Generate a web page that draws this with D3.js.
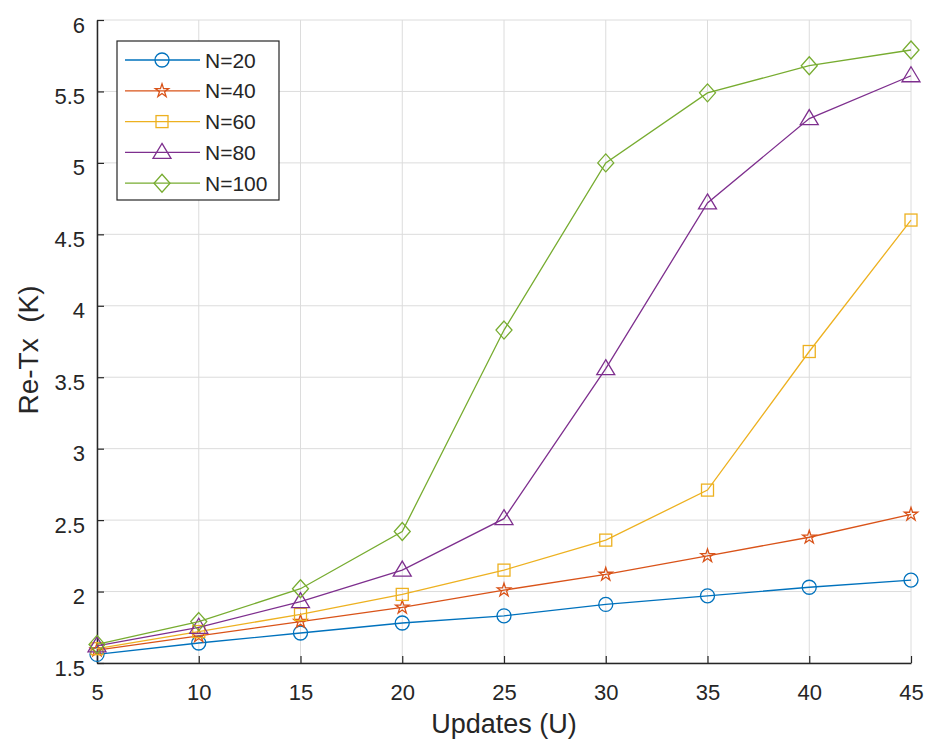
<!DOCTYPE html>
<html>
<head>
<meta charset="utf-8">
<script src="https://cdn.jsdelivr.net/npm/d3@7"></script>
<style>
  body { margin: 0; background: #fff; }
  svg text { font-family: "Liberation Sans", Arial, sans-serif; fill: #262626; }
</style>
</head>
<body>
<svg id="chart"></svg>
<script>
'use strict';
const UPDATES = [5, 10, 15, 20, 25, 30, 35, 40, 45];
const N20  = [1.56, 1.64, 1.71, 1.78, 1.83, 1.91, 1.97, 2.03, 2.08];
const N40  = [1.59, 1.69, 1.79, 1.89, 2.01, 2.12, 2.25, 2.38, 2.54];
const N60  = [1.60, 1.72, 1.84, 1.98, 2.15, 2.36, 2.71, 3.68, 4.60];
const N80  = [1.62, 1.75, 1.93, 2.15, 2.51, 3.56, 4.72, 5.31, 5.61];
const N100 = [1.63, 1.79, 2.02, 2.42, 3.83, 5.00, 5.49, 5.68, 5.79];
const SERIES_NAMES = ['N=20', 'N=40', 'N=60', 'N=80', 'N=100'];
const Y_TICKS = [1.5, 2, 2.5, 3, 3.5, 4, 4.5, 5, 5.5, 6];

const WIDTH = 931, HEIGHT = 745;
const LEFT = 97, RIGHT = 911, TOP = 20, BOTTOM = 663;

let series = [
  { name: SERIES_NAMES[0], values: N20,  color: '#0072BD', marker: 'circle' },
  { name: SERIES_NAMES[1], values: N40,  color: '#D95319', marker: 'star' },
  { name: SERIES_NAMES[2], values: N60,  color: '#EDB120', marker: 'square' },
  { name: SERIES_NAMES[3], values: N80,  color: '#7E2F8E', marker: 'triangle' },
  { name: SERIES_NAMES[4], values: N100, color: '#77AC30', marker: 'diamond' }
];

let svg = d3.select('#chart').attr('width', WIDTH).attr('height', HEIGHT);

let xScale = d3.scaleLinear().domain([5, 45]).range([LEFT, RIGHT]);
let yScale = d3.scaleLinear().domain([1.5, 6]).range([BOTTOM, TOP]);

// grid
svg.append('g').selectAll('line').data(UPDATES).enter().append('line')
  .attr('x1', d => xScale(d)).attr('x2', d => xScale(d))
  .attr('y1', TOP).attr('y2', BOTTOM)
  .attr('stroke', '#dcdcdc').attr('stroke-width', 1);
svg.append('g').selectAll('line').data(Y_TICKS).enter().append('line')
  .attr('x1', LEFT).attr('x2', RIGHT)
  .attr('y1', d => yScale(d)).attr('y2', d => yScale(d))
  .attr('stroke', '#dcdcdc').attr('stroke-width', 1);

// axes
let xAxis = d3.axisBottom(xScale).tickValues(UPDATES).tickSizeInner(-7).tickSizeOuter(0).tickPadding(21);
let yAxis = d3.axisLeft(yScale).tickValues(Y_TICKS).tickSizeInner(-7).tickSizeOuter(0).tickPadding(12)
  .tickFormat(d3.format('~g'));

let gx = svg.append('g').attr('transform', 'translate(0,' + BOTTOM + ')').call(xAxis);
let gy = svg.append('g').attr('transform', 'translate(' + LEFT + ',0)').call(yAxis);
[gx, gy].forEach(function(g) {
  g.select('.domain').attr('stroke', '#262626').attr('stroke-width', 1.5);
  g.selectAll('.tick line').attr('stroke', '#262626').attr('stroke-width', 1.2);
  g.selectAll('.tick text').attr('font-size', 22).attr('fill', '#3a3a3a');
});
gy.selectAll('.tick text').attr('dy', '0.55em');

// axis titles
svg.append('text')
  .attr('x', 504).attr('y', 733)
  .attr('text-anchor', 'middle').attr('font-size', 27)
  .attr('fill', '#3a3a3a')
  .text('Updates (U)');
svg.append('text')
  .attr('transform', 'translate(38,350) rotate(-90)')
  .attr('text-anchor', 'middle').attr('font-size', 28)
  .attr('fill', '#3a3a3a')
  .attr('xml:space', 'preserve')
  .text('Re-Tx  (K)');

function drawMarker(g, type, color) {
  if (type === 'circle') {
    g.append('circle').attr('r', 7);
  } else if (type === 'star') {
    g.append('path').attr('d', d3.symbol(d3.symbolStar, 55)());
  } else if (type === 'square') {
    g.append('rect').attr('x', -6).attr('y', -6).attr('width', 12).attr('height', 12);
  } else if (type === 'triangle') {
    g.append('path').attr('d', 'M0,-9L9,6L-9,6Z');
  } else if (type === 'diamond') {
    g.append('path').attr('d', 'M0,-9L8,0L0,9L-8,0Z');
  }
  g.selectAll('*').attr('fill', 'none').attr('stroke', color).attr('stroke-width', 1.3);
}

let line = d3.line()
  .x(function(d, i) { return xScale(UPDATES[i]) })
  .y(function(d) { return yScale(d) });

series.forEach(function(s) {
  svg.append('path')
    .datum(s.values)
    .attr('d', line)
    .attr('fill', 'none')
    .attr('stroke', s.color)
    .attr('stroke-width', 1.3);
  s.values.forEach(function(v, i) {
    let g = svg.append('g')
      .attr('transform', 'translate(' + xScale(UPDATES[i]) + ',' + yScale(v) + ')');
    drawMarker(g, s.marker, s.color);
  });
});

// legend
let legend = svg.append('g');
legend.append('rect')
  .attr('x', 117).attr('y', 41).attr('width', 162).attr('height', 159)
  .attr('fill', '#fff').attr('stroke', '#262626').attr('stroke-width', 1.2);
series.forEach(function(s, i) {
  let y = 60 + i * 30.8;
  legend.append('line')
    .attr('x1', 125).attr('x2', 200).attr('y1', y).attr('y2', y)
    .attr('stroke', s.color).attr('stroke-width', 1.3);
  let g = legend.append('g').attr('transform', 'translate(162,' + y + ')');
  drawMarker(g, s.marker, s.color);
  legend.append('text')
    .attr('x', 205).attr('y', y + 7.5)
    .attr('font-size', 21)
    .text(s.name);
});
</script>
</body>
</html>
